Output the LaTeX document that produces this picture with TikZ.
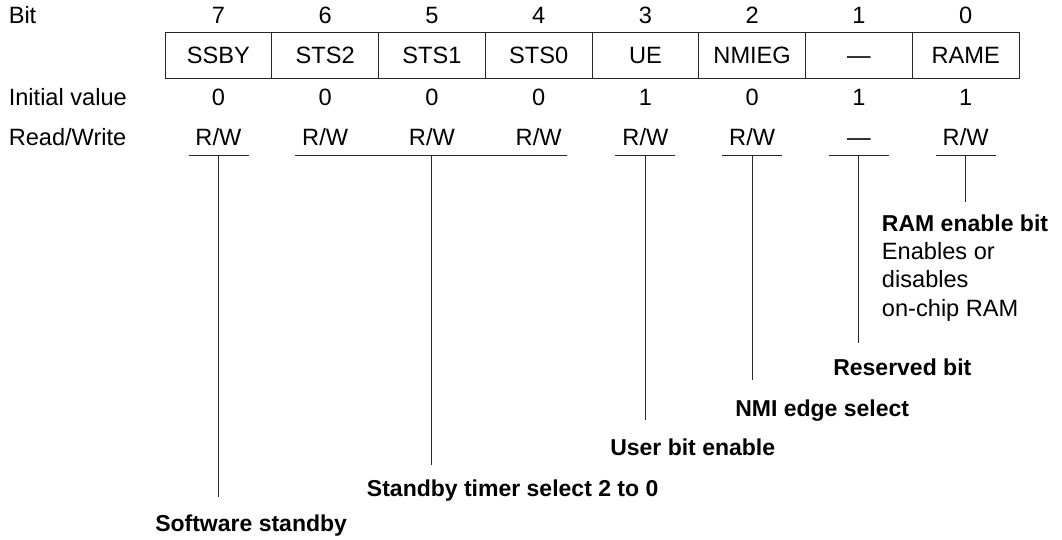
\documentclass[tikz,border=0pt]{standalone}
\usepackage{fontspec}
\setmainfont{Liberation Sans}
\begin{document}
\begin{tikzpicture}[x=0.75pt,y=-0.75pt,
  txt/.style={font=\fontsize{17.7}{20}\selectfont, inner sep=0pt, anchor=base},
  rowlbl/.style={txt, anchor=base west},
  lbl/.style={font=\fontsize{17.25}{20}\selectfont\bfseries, inner sep=0pt, anchor=base west},
  desc/.style={font=\fontsize{17.7}{20}\selectfont, inner sep=0pt, anchor=base west},
  cell/.style={draw=black!85, line width=0.75pt, minimum width=80.06pt, minimum height=34.5pt,
    inner sep=0pt, text height=12.67pt, text depth=0pt, font=\fontsize{17.7}{20}\selectfont},
  ln/.style={draw=black!85, line width=0.75pt}
]
\fill[white] (0,0) rectangle (1062,539);
\useasboundingbox (0,0) rectangle (1062,539);

% row labels
\node[rowlbl] (lbit) at (8.5,23.5) {Bit};
\node[rowlbl] (linit) at (8.5,105.5) {Initial value};
\node[rowlbl] (lrw) at (8.5,145) {Read/Write};

% register cells
\foreach \i/\name/\bit/\init/\rw in {0/SSBY/7/0/R\slash W,1/STS2/6/0/R\slash W,2/STS1/5/0/R\slash W,3/STS0/4/0/R\slash W,
    4/UE/3/1/R\slash W,5/NMIEG/2/0/R\slash W,6/{—}/1/1/{—},7/RAME/0/1/R\slash W}{
  \pgfmathsetmacro{\cx}{218.4+\i*106.75}
  \node[cell] (c\i) at (\cx,55.3) {\name};
  \node[txt] (b\i) at (\cx,23.5) {\bit};
  \node[txt] (v\i) at (\cx,105.5) {\init};
  \node[txt] (w\i) at (\cx,145) {\rw};
}

% underlines
\coordinate (u0) at (218.4,155.7);
\coordinate (u1) at (431.8,155.7);
\coordinate (u4) at (645.4,155.7);
\coordinate (u5) at (752.1,155.7);
\coordinate (u6) at (858.9,155.7);
\coordinate (u7) at (965.6,155.7);
\draw[ln] (189,155.7) -- (249,155.7);
\draw[ln] (295,155.7) -- (567,155.7);
\foreach \k in {4,5,6,7}{
  \draw[ln] ([xshift=-22.5pt]u\k) -- ([xshift=22.5pt]u\k);
}

% line ends
\coordinate (e0) at (218.4,497);
\coordinate (e1) at (431.8,465);
\coordinate (e4) at (645.4,420);
\coordinate (e5) at (752.1,380);
\coordinate (e6) at (858.9,343);
\coordinate (e7) at (965.6,202);
\foreach \k in {0,1,4,5,6,7}{
  \draw[ln] (u\k) -- (e\k);
}

% labels
\node[lbl] (ram) at (881.7,231.2) {RAM enable bit};
\node[desc] (ram1) at (881.7,259.5) {Enables or};
\node[desc] (ram2) at (881.7,287.8) {disables};
\node[desc] (ram3) at (881.7,316.1) {on-chip RAM};
\node[lbl] (rsv) at (833,375.2) {Reserved bit};
\node[lbl] (nmi) at (735,416.2) {NMI edge select};
\node[lbl] (ue) at (610,455.2) {User bit enable};
\node[lbl] (sts) at (366.7,496.2) {Standby timer select 2 to 0};
\node[lbl] (ssby) at (155,531.5) {Software standby};
\end{tikzpicture}
\end{document}
